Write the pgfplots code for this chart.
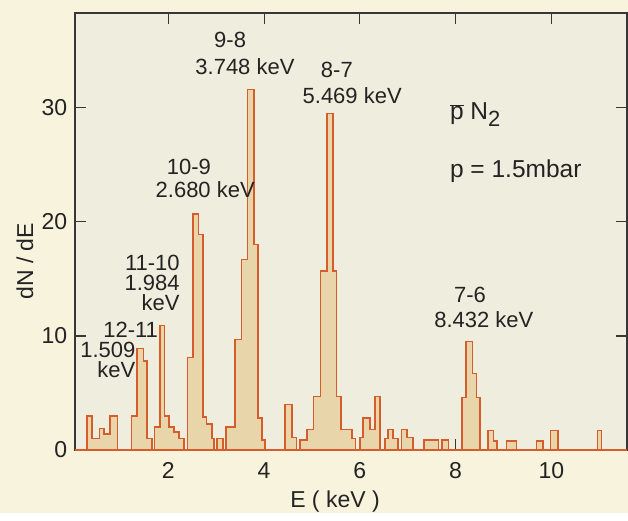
\documentclass[border=0pt]{standalone}
\usepackage{pgfplots}
\pgfplotsset{compat=1.18}
\usepackage{fontspec}
\setmainfont{Liberation Sans}
\usetikzlibrary{backgrounds}
\definecolor{pagebg}{RGB}{248,243,221}
\definecolor{axbg}{RGB}{239,238,222}
\definecolor{barfill}{RGB}{232,214,170}
\definecolor{barline}{RGB}{214,92,44}
\definecolor{axline}{RGB}{55,55,55}
\definecolor{txt}{RGB}{35,35,35}
\begin{document}
\fontsize{23}{27}\selectfont
\begin{tikzpicture}
\begin{axis}[
 at={(0pt,0pt)}, anchor=south west,
 scale only axis, width=552pt, height=437pt,
 xmin=0.05, xmax=11.58, ymin=0, ymax=38.3,
 clip=false,
 axis background/.style={fill=axbg},
 axis line style={axline, line width=1.4pt},
 major tick length=11pt,
 every tick/.style={axline, line width=1.2pt},
 xtick={2,4,6,8,10}, ytick={0,10,20,30},
 tick label style={font=\fontsize{23}{27}\selectfont, text=txt},
 /pgf/number format/assume math mode=true,
 xticklabel style={yshift=-5pt},
 xlabel={E ( keV )}, ylabel={dN / dE},
 label style={font=\fontsize{23}{27}\selectfont, text=txt},
 xlabel style={at={(axis description cs:0.471,-0.119)}, anchor=center},
 ylabel style={at={(axis description cs:-0.0906,0.432)}, anchor=center},
]
\addplot[const plot, fill=barfill, draw=barline, line width=1.6pt] coordinates {
(0.05,0) (0.30,3.0) (0.41,1.0) (0.56,1.9) (0.65,1.4) (0.78,3.0) (0.94,0)
(1.23,3.0) (1.35,8.9) (1.48,7.8) (1.56,1.0) (1.66,0) (1.71,2.0) (1.83,10.9)
(1.92,3.0) (2.01,2.0) (2.12,1.6) (2.22,1.0) (2.33,0) (2.40,8.1) (2.51,20.7)
(2.63,18.9) (2.72,2.9) (2.80,2.3) (2.91,1.0) (2.95,0) (3.02,1.0) (3.14,0)
(3.20,2.0) (3.39,9.7) (3.53,16.7) (3.65,31.6) (3.79,18.0) (3.87,2.8) (3.96,0.9)
(4.02,0) (4.44,4.0) (4.58,1.1) (4.68,0) (4.75,0.9) (4.89,1.8) (5.03,4.7)
(5.18,15.7) (5.31,29.5) (5.44,15.7) (5.51,4.7) (5.61,1.8) (5.83,1.0) (5.91,0)
(6.00,1.1) (6.07,2.8) (6.21,1.8) (6.32,4.7) (6.42,0) (6.52,1.0) (6.59,1.8)
(6.69,1.0) (6.80,0) (6.87,1.8) (6.98,1.1) (7.11,0) (7.34,0.9) (7.64,0)
(7.71,0.9) (7.85,0) (8.13,4.6) (8.22,9.5) (8.35,6.7) (8.44,4.6) (8.51,0)
(8.68,1.7) (8.79,0.8) (8.87,0) (9.06,0.8) (9.27,0) (9.69,0.8) (9.83,0)
(9.98,1.7) (10.14,0) (10.96,1.7) (11.05,0) (11.58,0)
} \closedcycle;
\begin{scope}[every node/.style={text=txt, inner sep=0pt, font=\fontsize{22}{20}\selectfont}]
\node at (axis cs:3.29,35.9) {9-8};
\node at (axis cs:3.60,33.6) {3.748 keV};
\node at (axis cs:5.52,33.3) {8-7};
\node at (axis cs:5.84,31.1) {5.469 keV};
\node at (axis cs:2.43,24.8) {10-9};
\node at (axis cs:2.77,22.8) {2.680 keV};
\node[anchor=north east, align=right] at (axis cs:2.24,17.09) {11-10\\1.984\\keV};
\node[anchor=north west, align=left] at (axis cs:0.157,11.22) {\hspace*{23pt}12-11\\1.509\\\hspace*{17pt}keV};
\node at (axis cs:8.30,13.6) {7-6};
\node at (axis cs:8.59,11.4) {8.432 keV};
\node[anchor=west, font=\fontsize{24.5}{28}\selectfont] at (axis cs:7.88,29.4) {$\overline{\mbox{p}}$ N\raisebox{-7pt}{\fontsize{22}{25}\selectfont 2}};
\node[anchor=west, font=\fontsize{24.5}{28}\selectfont] at (axis cs:7.88,24.4) {p = 1.5mbar};
\end{scope}
\end{axis}
\begin{scope}[on background layer]
\fill[pagebg] (-75pt,-63pt) rectangle (553pt,450pt);
\end{scope}
\end{tikzpicture}
\end{document}
